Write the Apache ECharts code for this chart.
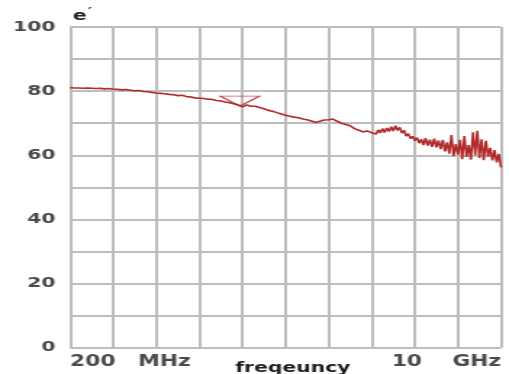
<!DOCTYPE html>
<html>
<head>
<meta charset="utf-8">
<script src="https://cdn.jsdelivr.net/npm/echarts@6/dist/echarts.min.js"></script>
<style>
html,body{margin:0;padding:0;background:#fff;overflow:hidden;}
#wrap{width:509px;height:374px;overflow:hidden;}
#chart{width:351px;height:374px;transform:scaleX(1.45);transform-origin:0 0;}
</style>
</head>
<body>
<div id="wrap"><div id="chart"></div></div>
<script>
// x positions in grid divisions (0 = 200 MHz, 10 = 10 GHz)
const freqPos = [0,0.1,0.2,0.3,0.4,0.5,0.6,0.7,0.8,0.9,1,1.1,1.2,1.3,1.4,1.5,1.6,1.7,1.8,1.9,2,2.1,2.2,2.3,2.4,2.5,2.6,2.7,2.8,2.9,3,3.1,3.2,3.3,3.4,3.5,3.6,3.7,3.8,3.9,4,4.1,4.2,4.3,4.4,4.5,4.6,4.7,4.8,4.9,5,5.1,5.2,5.3,5.4,5.5,5.6,5.7,5.8,5.9,6,6.1,6.2,6.3,6.4,6.5,6.6,6.7,6.8,6.9,7,
7.05,7.1,7.15,7.2,7.25,7.3,7.35,7.4,7.45,7.5,7.55,7.6,7.65,7.7,7.75,7.8,7.85,7.9,7.95,8,
8.05,8.1,8.15,8.2,8.25,8.3,8.35,8.4,8.45,8.5,8.55,8.6,8.65,8.7,8.75,8.8,8.85,8.9,8.95,9,
9.05,9.1,9.15,9.2,9.25,9.3,9.35,9.4,9.45,9.5,9.55,9.6,9.65,9.7,9.75,9.8,9.85,9.9,9.95,10];
// permittivity e'
const epsValues = [81.1,81.0,81.0,80.9,81.0,80.9,80.8,80.9,80.7,80.8,80.6,
80.6,80.4,80.5,80.3,80.1,80.2,79.9,79.8,79.6,79.4,
79.3,79.2,79.0,78.9,78.6,78.7,78.3,78.2,77.9,77.8,
77.7,77.5,77.4,77.1,76.9,76.6,76.4,76.1,75.7,75.1,
75.7,75.3,75.3,74.9,74.5,74.0,73.7,73.3,72.9,72.5,
72.2,71.9,71.7,71.3,71.1,70.7,70.2,70.6,71.0,71.1,
71.3,70.6,70.0,69.6,69.2,68.3,67.8,67.3,67.6,67.0,
67.6,66.6,67.9,67.0,68.3,67.1,68.5,67.4,68.9,67.6,69.2,67.8,68.7,66.9,67.8,66.0,66.7,65.2,65.9,64.6,
65.5,63.8,65.0,63.2,65.3,63.0,64.9,62.6,65.2,62.5,64.6,61.9,64.8,61.2,64.0,60.5,66.3,59.8,63.5,60.2,
64.8,58.8,66.0,59.5,63.2,58.6,67.2,60.0,67.6,59.2,65.0,58.5,64.5,59.6,62.3,58.4,61.6,57.8,60.4,56.2];
const markerPoint = [3.94, 76.9];
const xTickLabels = {0: '200   MHz', 10: '10    GHz'};
const yTickLabels = [0, 20, 40, 60, 80, 100];
const xName = 'freqeuncy';
const yName = 'e';

const lineData = freqPos.map((x, i) => [x, epsValues[i]]);
const chart = echarts.init(document.getElementById('chart'), null, {renderer: 'canvas'});
const gridColor = '#bdbdbd';
chart.setOption({
  animation: false,
  backgroundColor: '#fff',
  grid: {left: 48.3, right: 5.5, top: 27, bottom: 26.3, containLabel: false, outerBoundsMode: 'none'},
  xAxis: {
    type: 'value', min: 0, max: 10, interval: 1,
    axisLine: {show: false}, axisTick: {show: false},
    splitLine: {show: true, lineStyle: {color: gridColor, width: 2}},
    axisLabel: {
      show: true, margin: 7, fontFamily: 'DejaVu Sans', fontWeight: 'bold', fontSize: 15, color: '#4a4a4a',
      alignMinLabel: 'left', alignMaxLabel: 'right',
      formatter: v => xTickLabels[v] || ''
    },
    name: xName, nameLocation: 'middle', nameGap: 14, nameMoveOverlap: false,
    nameTextStyle: {fontFamily: 'DejaVu Sans', fontWeight: 'bold', fontSize: 14, color: '#1e1e1e', padding: [0,0,0,10], verticalAlign: 'top'}
  },
  yAxis: {
    type: 'value', min: 0, max: 100, interval: 10,
    axisLine: {show: false}, axisTick: {show: false},
    splitLine: {show: true, lineStyle: {color: gridColor, width: 2}},
    axisLabel: {
      margin: 10, fontFamily: 'DejaVu Sans', fontWeight: 'bold', fontSize: 14, color: '#4a4a4a',
      formatter: v => yTickLabels.indexOf(v) >= 0 ? String(v) : ''
    },
    name: '{e|' + yName + '}{p|\u2032}', nameLocation: 'end', nameGap: 2, nameMoveOverlap: false,
    nameTextStyle: {
      align: 'left', padding: [0,0,0,2],
      rich: {
        e: {fontFamily: 'DejaVu Sans', fontWeight: 'bold', fontSize: 14, color: '#222'},
        p: {fontFamily: 'DejaVu Sans', fontWeight: 'bold', fontSize: 10, color: '#222', verticalAlign: 'top', padding: [0,0,8,1]}
      }
    }
  },
  series: [
    {
      type: 'line', data: lineData, showSymbol: false, symbol: 'none',
      lineStyle: {color: '#b22a2a', width: 1.6}, z: 3
    },
    {
      type: 'scatter', data: [markerPoint], symbol: 'triangle', symbolRotate: 180,
      symbolSize: [27, 10],
      itemStyle: {color: 'rgba(0,0,0,0)', borderColor: '#b22a2a', borderWidth: 1.3}, z: 4
    }
  ]
});
</script>
</body>
</html>
